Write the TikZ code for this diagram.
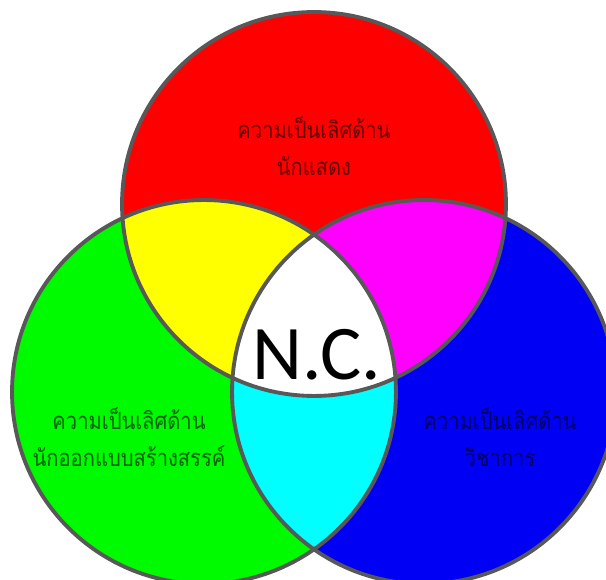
\documentclass[tikz,border=0pt]{standalone}
\usepackage{fontspec}
\setmainfont{Carlito}
\newfontfamily\thaifont[Script=Thai, FakeStretch=0.85]{Loma}
\usetikzlibrary{positioning}
\definecolor{vred}{RGB}{255,0,0}
\definecolor{vgreen}{RGB}{0,250,0}
\definecolor{vblue}{RGB}{0,0,245}
\definecolor{vyellow}{RGB}{255,255,0}
\definecolor{vmagenta}{RGB}{255,0,255}
\definecolor{vcyan}{RGB}{0,255,255}
\definecolor{rimgray}{RGB}{88,88,88}

\begin{document}
\begin{tikzpicture}[
  x=0.02cm, y=-0.02cm,
  rim/.style={draw=rimgray, line width=2.2pt},
  lbl/.style={align=center, text=black, text opacity=0.6, inner sep=0pt,
    font=\thaifont\fontsize{13.5}{21.5}\selectfont},
  core/.style={inner sep=0pt, font=\fontsize{44}{44}\selectfont},
]
  \useasboundingbox (0,0) rectangle (606,580);
  \clip (0,0) rectangle (606,580);
  \coordinate (cr) at (314,204);
  \coordinate (cg) at (204,392);
  \coordinate (cb) at (424,392);
  \def\rad{3.84cm}
  % base discs
  \fill[vred] (cr) circle[radius=\rad];
  \fill[vgreen] (cg) circle[radius=\rad];
  \fill[vblue] (cb) circle[radius=\rad];
  % overlaps
  \begin{scope}
    \clip (cr) circle[radius=\rad];
    \fill[vyellow] (cg) circle[radius=\rad];
    \fill[vmagenta] (cb) circle[radius=\rad];
  \end{scope}
  \begin{scope}
    \clip (cg) circle[radius=\rad];
    \fill[vcyan] (cb) circle[radius=\rad];
  \end{scope}
  \begin{scope}
    \clip (cr) circle[radius=\rad];
    \clip (cg) circle[radius=\rad];
    \fill[white] (cb) circle[radius=\rad];
  \end{scope}
  \draw[rim] (cr) circle[radius=\rad];
  \draw[rim] (cg) circle[radius=\rad];
  \draw[rim] (cb) circle[radius=\rad];
  % labels
  \node[lbl] (actor) at (314,146) {ความเป็นเลิศด้าน\\นักแสดง};
  \node[lbl] (design) at (129,437) {ความเป็นเลิศด้าน\\นักออกแบบสร้างสรรค์};
  \node[lbl] (acad) at (500,437) {ความเป็นเลิศด้าน\\วิชาการ};
  \node[core] (nc) at (317,355) {N.C.};
\end{tikzpicture}
\end{document}
